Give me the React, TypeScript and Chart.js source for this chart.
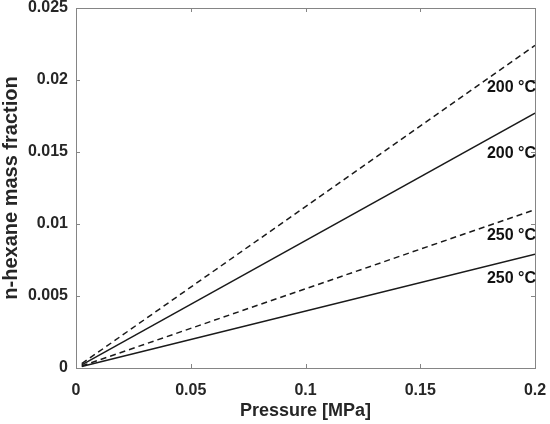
import React, { useEffect, useRef } from 'react';
import { Chart, registerables, ChartConfiguration, Plugin } from 'chart.js';

Chart.register(...registerables);

// pressure [MPa] at the two ends of each line
const pressure = [0.0025, 0.2];

// n-hexane mass fraction
const dashed200 = [0.0003, 0.0224];
const solid200 = [0.00022, 0.0177];
const dashed250 = [0.00014, 0.011];
const solid250 = [0.0001, 0.0079];

const labelTexts = ['200 °C', '200 °C', '250 °C', '250 °C'];
const labelY = [0.0195, 0.0149, 0.0092, 0.0062];

const xTicks = [0, 0.05, 0.1, 0.15, 0.2];
const yTicks = [0, 0.005, 0.01, 0.015, 0.02, 0.025];

const FONT = "'Liberation Sans', Arial, sans-serif";
const TEXT = '#262626';
const AXIS = '#858585';

const toPoints = (ys: number[]) => pressure.map((x, i) => ({ x, y: ys[i] }));
const fmt = (v: number | string) => String(+Number(v).toFixed(4));

// MATLAB-style box with inward ticks, and the line labels
const boxPlugin: Plugin = {
  id: 'box',
  afterDraw(chart) {
    const { ctx, chartArea: a, scales } = chart;
    const xs = scales.x;
    const ys = scales.y;
    const tl = 4;
    ctx.save();
    ctx.strokeStyle = AXIS;
    ctx.lineWidth = 1;
    ctx.strokeRect(a.left + 0.5, a.top + 0.5, a.right - a.left, a.bottom - a.top);
    ctx.beginPath();
    xTicks.forEach(t => {
      const px = Math.round(xs.getPixelForValue(t)) + 0.5;
      ctx.moveTo(px, a.bottom);
      ctx.lineTo(px, a.bottom - tl);
      ctx.moveTo(px, a.top);
      ctx.lineTo(px, a.top + tl);
    });
    yTicks.forEach(t => {
      const py = Math.round(ys.getPixelForValue(t)) + 0.5;
      ctx.moveTo(a.left, py);
      ctx.lineTo(a.left + tl, py);
      ctx.moveTo(a.right, py);
      ctx.lineTo(a.right - tl, py);
    });
    ctx.stroke();

    ctx.fillStyle = '#111';
    ctx.font = `bold 16px ${FONT}`;
    ctx.textAlign = 'right';
    ctx.textBaseline = 'middle';
    labelTexts.forEach((txt, i) => {
      ctx.fillText(txt, xs.getPixelForValue(0.2) + 1, ys.getPixelForValue(labelY[i]));
    });
    ctx.restore();
  },
};

const App: React.FC = () => {
  const canvasRef = useRef<HTMLCanvasElement | null>(null);

  useEffect(() => {
    if (!canvasRef.current) return;
    const line = (data: number[], dashed: boolean) => ({
      data: toPoints(data),
      borderColor: '#1a1a1a',
      borderWidth: 1.5,
      borderDash: dashed ? [6, 4] : [],
      pointRadius: 0,
      showLine: true,
      fill: false,
    });

    const config: ChartConfiguration = {
      type: 'scatter',
      data: {
        datasets: [
          line(dashed200, true),
          line(solid200, false),
          line(dashed250, true),
          line(solid250, false),
        ],
      },
      options: {
        animation: false,
        responsive: true,
        maintainAspectRatio: false,
        layout: { padding: { top: 8, right: 15, left: 0, bottom: 0 } },
        plugins: { legend: { display: false }, tooltip: { enabled: false } },
        scales: {
          x: {
            type: 'linear',
            min: 0,
            max: 0.2,
            afterBuildTicks: s => { s.ticks = xTicks.map(value => ({ value })); },
            afterFit: (s: any) => { s.height = 56; s.paddingLeft = 0; s.paddingRight = 0; },
            grid: { display: false, drawTicks: false },
            border: { display: false },
            ticks: {
              padding: 13,
              color: TEXT,
              font: { family: FONT, size: 16, weight: 'bold' },
              callback: v => fmt(v),
              maxRotation: 0,
            },
            title: {
              display: true,
              text: 'Pressure [MPa]',
              color: TEXT,
              font: { family: FONT, size: 18, weight: 'bold' },
              padding: { top: 0, bottom: 2 },
            },
          },
          y: {
            type: 'linear',
            min: 0,
            max: 0.025,
            afterBuildTicks: s => { s.ticks = yTicks.map(value => ({ value })); },
            afterFit: (s: any) => { s.width = 76; s.paddingTop = 0; s.paddingBottom = 0; },
            grid: { display: false, drawTicks: false },
            border: { display: false },
            ticks: {
              padding: 8,
              color: TEXT,
              font: { family: FONT, size: 16, weight: 'bold' },
              callback: v => fmt(v),
            },
            title: {
              display: true,
              text: 'n-hexane mass fraction',
              color: TEXT,
              font: { family: FONT, size: 20, weight: 'bold', lineHeight: 1 },
              padding: { top: 1, bottom: 0 },
            },
          },
        },
      },
      plugins: [boxPlugin],
    };

    const chart = new Chart(canvasRef.current, config);
    return () => chart.destroy();
  }, []);

  return (
    <div style={{ position: 'fixed', left: 0, top: 0, width: 550, height: 424, background: '#fff' }}>
      <canvas ref={canvasRef}></canvas>
    </div>
  );
};

export default App;
